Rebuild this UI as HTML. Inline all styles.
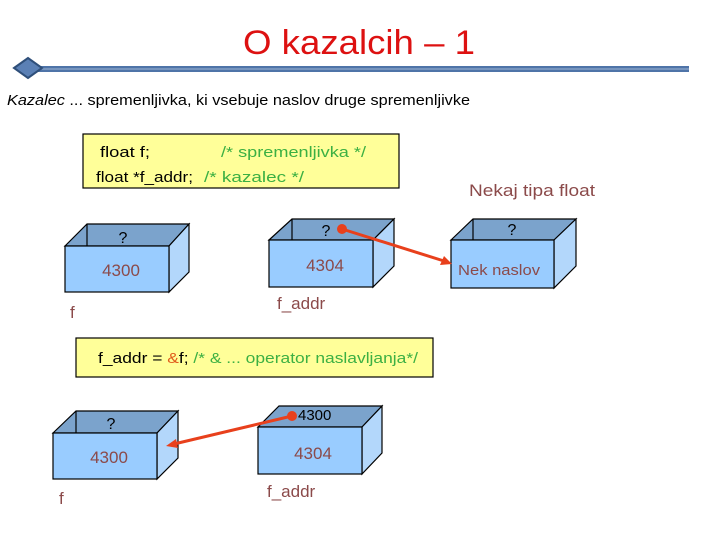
<!DOCTYPE html>
<html><head><meta charset="utf-8"><style>
html,body{margin:0;padding:0;background:#fff;width:720px;height:540px;overflow:hidden}
svg{display:block}
text{font-family:"Liberation Sans",sans-serif}
</style></head><body>
<svg width="720" height="540" viewBox="0 0 720 540" xmlns="http://www.w3.org/2000/svg">
<text x="243" y="54" font-size="34" fill="#dd1111" textLength="232" lengthAdjust="spacingAndGlyphs">O kazalcih – 1</text>
<rect x="30" y="66" width="659" height="6" fill="#4f74a8"/>
<line x1="30" y1="69" x2="689" y2="69" stroke="#9fb6d4" stroke-width="1"/>
<polygon points="14,68 28,58 42,68 28,78" fill="#5b80b5" stroke="#2f4f7a" stroke-width="2"/>
<text x="7" y="105" font-size="15" fill="#000" textLength="463" lengthAdjust="spacingAndGlyphs"><tspan font-style="italic">Kazalec</tspan> ... spremenljivka, ki vsebuje naslov druge spremenljivke</text>

<rect x="83" y="134" width="316" height="54" fill="#ffff99" stroke="#000" stroke-width="1.2"/>
<text x="100" y="157" font-size="15" fill="#000" textLength="50" lengthAdjust="spacingAndGlyphs">float f;</text>
<text x="221" y="157" font-size="15" fill="#3cb043" textLength="145" lengthAdjust="spacingAndGlyphs">/* spremenljivka */</text>
<text x="96" y="182" font-size="15" fill="#000" textLength="97" lengthAdjust="spacingAndGlyphs">float *f_addr;</text>
<text x="204" y="182" font-size="15" fill="#3cb043" textLength="100" lengthAdjust="spacingAndGlyphs">/* kazalec */</text>
<text x="469" y="196" font-size="17" fill="#8b4a4a" textLength="126" lengthAdjust="spacingAndGlyphs">Nekaj tipa float</text>

<g stroke="#000" stroke-width="1.2">
<polygon points="65,246 87,224 189,224 169,246" fill="#7ba3cc"/>
<line x1="87" y1="224" x2="87" y2="246"/>
<polygon points="169,246 189,224 189,272 169,292" fill="#b3d7fb"/>
<rect x="65" y="246" width="104" height="46" fill="#99ccff"/>
</g>
<text x="123" y="243" font-size="16" text-anchor="middle" fill="#000">?</text>
<text x="121" y="276" font-size="17" text-anchor="middle" fill="#8b4a4a">4300</text>
<text x="70" y="318" font-size="17" fill="#8b4a4a">f</text>

<g stroke="#000" stroke-width="1.2">
<polygon points="269,240 292,219 394,219 373,240" fill="#7ba3cc"/>
<line x1="292" y1="219" x2="292" y2="240"/>
<polygon points="373,240 394,219 394,266 373,287" fill="#b3d7fb"/>
<rect x="269" y="240" width="104" height="47" fill="#99ccff"/>
</g>
<text x="326" y="236" font-size="16" text-anchor="middle" fill="#000">?</text>
<text x="325" y="271" font-size="17" text-anchor="middle" fill="#8b4a4a">4304</text>
<text x="277" y="309" font-size="17" fill="#8b4a4a">f_addr</text>

<g stroke="#000" stroke-width="1.2">
<polygon points="451,240 473,219 576,219 554,240" fill="#7ba3cc"/>
<line x1="473" y1="219" x2="473" y2="240"/>
<polygon points="554,240 576,219 576,266 554,288" fill="#b3d7fb"/>
<rect x="451" y="240" width="103" height="48" fill="#99ccff"/>
</g>
<text x="512" y="235" font-size="16" text-anchor="middle" fill="#000">?</text>
<text x="458" y="275" font-size="15" fill="#8b4a4a" textLength="82" lengthAdjust="spacingAndGlyphs">Nek naslov</text>

<line x1="342" y1="229" x2="444" y2="261" stroke="#e8401c" stroke-width="3"/>
<polygon points="452,264 440,265 444,256" fill="#e8401c"/>
<circle cx="342" cy="229" r="5" fill="#e8401c"/>

<rect x="76" y="338" width="357" height="39" fill="#ffff99" stroke="#000" stroke-width="1.2"/>
<text x="98" y="363" font-size="15" fill="#000" textLength="320" lengthAdjust="spacingAndGlyphs">f_addr = <tspan fill="#e05a1a">&amp;</tspan>f; <tspan fill="#3cb043">/* &amp; ... operator naslavljanja*/</tspan></text>

<g stroke="#000" stroke-width="1.2">
<polygon points="53,433 76,411 178,411 157,433" fill="#7ba3cc"/>
<line x1="76" y1="411" x2="76" y2="433"/>
<polygon points="157,433 178,411 178,458 157,479" fill="#b3d7fb"/>
<rect x="53" y="433" width="104" height="46" fill="#99ccff"/>
</g>
<text x="111" y="429" font-size="16" text-anchor="middle" fill="#000">?</text>
<text x="109" y="463" font-size="17" text-anchor="middle" fill="#8b4a4a">4300</text>
<text x="59" y="504" font-size="17" fill="#8b4a4a">f</text>

<g stroke="#000" stroke-width="1.2">
<polygon points="258,427 279,406 382,406 362,427" fill="#7ba3cc"/>
<polygon points="362,427 382,406 382,453 362,474" fill="#b3d7fb"/>
<rect x="258" y="427" width="104" height="47" fill="#99ccff"/>
</g>
<text x="298" y="420" font-size="15" fill="#000">4300</text>
<text x="313" y="459" font-size="17" text-anchor="middle" fill="#8b4a4a">4304</text>
<text x="267" y="497" font-size="17" fill="#8b4a4a">f_addr</text>

<line x1="292" y1="416" x2="174" y2="444" stroke="#e8401c" stroke-width="3"/>
<polygon points="166,446 176,439 178,448" fill="#e8401c"/>
<circle cx="292" cy="416" r="5" fill="#e8401c"/>
</svg>
</body></html>
